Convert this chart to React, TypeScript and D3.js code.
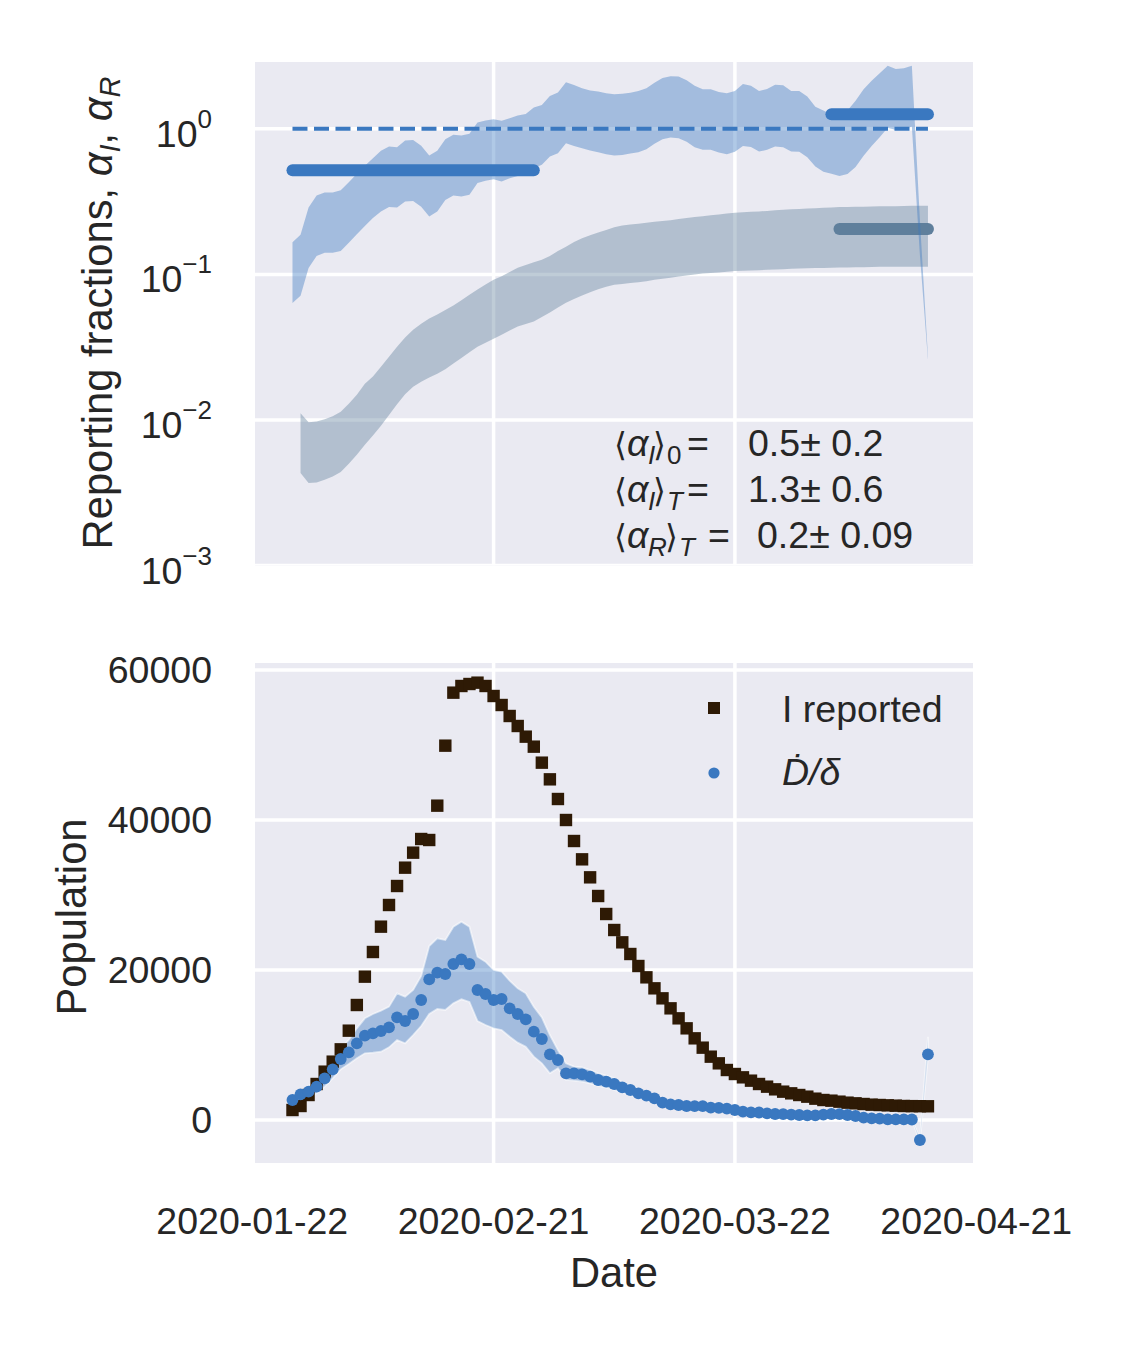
import React from "react";
import * as d3 from "d3";

// ---- data (one value per day, 2020-01-27 .. 2020-04-15)
const DAY = 864e5;
const dates = d3.utcDay.range(new Date(Date.UTC(2020, 0, 27)), new Date(Date.UTC(2020, 3, 16)));

// alpha_I credible band (top panel, blue), days 5..84
const alphaIUpper = [
  0.166, 0.187, 0.288, 0.348, 0.365, 0.365, 0.379, 0.43, 0.491, 0.557, 0.629, 0.706, 0.757, 0.749, 0.832, 0.84,
  0.767, 0.656, 0.706, 0.849, 0.91, 0.9, 0.924, 1.105, 1.14, 1.165, 1.135, 1.183, 1.233, 1.267, 1.4, 1.46,
  1.685, 1.775, 2.09, 2.005, 1.905, 1.835, 1.805, 1.76, 1.73, 1.745, 1.773, 1.822, 1.9, 2.07, 2.24, 2.3,
  2.29, 2.16, 1.98, 1.875, 1.875, 1.795, 1.76, 1.82, 2.03, 1.98, 1.82, 1.88, 2.01, 1.995, 1.82, 1.82,
  1.67, 1.42, 1.335, 1.254, 1.24, 1.335, 1.56, 1.875, 2.14, 2.41, 2.71, 2.58, 2.61, 2.71, 0.237, 0.0272,
];
const alphaILower = [
  0.0635, 0.0713, 0.1105, 0.134, 0.141, 0.141, 0.145, 0.165, 0.189, 0.215, 0.244, 0.271, 0.29, 0.288, 0.317, 0.32,
  0.292, 0.25, 0.271, 0.325, 0.348, 0.343, 0.352, 0.424, 0.44, 0.451, 0.434, 0.458, 0.475, 0.491, 0.537, 0.566,
  0.646, 0.681, 0.798, 0.764, 0.736, 0.709, 0.692, 0.67, 0.656, 0.662, 0.676, 0.691, 0.725, 0.789, 0.849, 0.871,
  0.863, 0.814, 0.749, 0.718, 0.718, 0.687, 0.67, 0.695, 0.764, 0.752, 0.698, 0.718, 0.756, 0.749, 0.698, 0.695,
  0.638, 0.551, 0.507, 0.491, 0.475, 0.489, 0.546, 0.653, 0.764, 0.877, 1.016, 0.984, 1.0, 1.032, 0.136, 0.0259,
];

// alpha_R credible band (top panel, slate), days 6..84
const alphaRUpper = [
  0.0111, 0.00966, 0.00975, 0.0101, 0.0106, 0.0114, 0.0129, 0.0149, 0.0177, 0.0199, 0.0232, 0.0272, 0.0318, 0.0369,
  0.0417, 0.0458, 0.0498, 0.0531, 0.0569, 0.0611, 0.0665, 0.0724, 0.0787, 0.0851, 0.0918, 0.0973, 0.104, 0.111,
  0.116, 0.121, 0.126, 0.134, 0.145, 0.155, 0.167, 0.177, 0.186, 0.194, 0.202, 0.211, 0.217, 0.22, 0.223, 0.226,
  0.23, 0.233, 0.236, 0.24, 0.244, 0.248, 0.251, 0.255, 0.258, 0.262, 0.265, 0.267, 0.269, 0.271, 0.273, 0.276,
  0.278, 0.28, 0.282, 0.284, 0.285, 0.287, 0.288, 0.29, 0.291, 0.292, 0.292, 0.293, 0.294, 0.294, 0.294, 0.295,
  0.296, 0.296, 0.296,
];
const alphaRLower = [
  0.00432, 0.00369, 0.00372, 0.00388, 0.00409, 0.00439, 0.005, 0.00577, 0.00676, 0.00782, 0.00912, 0.0108, 0.0128,
  0.015, 0.0169, 0.0183, 0.0196, 0.0208, 0.0223, 0.0244, 0.0266, 0.0292, 0.0318, 0.0339, 0.0361, 0.0385, 0.0412,
  0.0439, 0.0456, 0.0475, 0.0509, 0.0547, 0.0593, 0.0638, 0.0679, 0.0716, 0.0755, 0.0792, 0.0822, 0.0849, 0.0858,
  0.0872, 0.0885, 0.0899, 0.0918, 0.0933, 0.0948, 0.0966, 0.0983, 0.1, 0.1015, 0.1023, 0.1031, 0.1043, 0.1054,
  0.1059, 0.1064, 0.107, 0.1076, 0.1082, 0.1087, 0.1093, 0.1099, 0.1102, 0.1105, 0.1108, 0.1111, 0.1114, 0.1116,
  0.1119, 0.1122, 0.1124, 0.1127, 0.1127, 0.1127, 0.1127, 0.1127, 0.1127, 0.1127,
];

// fitted plateaus: value, first day, last day
const levelNames = ["alphaI0", "alphaIT", "alphaRT"];
const levelValues = [0.52, 1.26, 0.205];
const levelFrom = ["2020-01-27", "2020-04-03", "2020-04-04"];
const levelTo = ["2020-02-26", "2020-04-15", "2020-04-15"];

// bottom panel
const iReported = [
  1333, 1867, 3333, 4800, 6444, 7778, 9422, 11911, 15333, 19111, 22400, 25778, 28667, 31200, 33644, 35644, 37467,
  37333, 41911, 49911, 56978, 57867, 58133, 58311, 57867, 56533, 55333, 53867, 52533, 51111, 49778, 47644, 45422,
  42800, 40000, 37200, 34756, 32356, 29867, 27467, 25333, 23689, 22133, 20533, 19022, 17556, 16222, 14889, 13556,
  12222, 10889, 9644, 8444, 7556, 6667, 6133, 5689, 5244, 4800, 4444, 4089, 3778, 3556, 3333, 3111, 2844, 2667,
  2578, 2444, 2311, 2222, 2133, 2044, 2000, 1956, 1911, 1867, 1850, 1840, 1830,
];
const dDelta = [
  2667, 3422, 3778, 4444, 5556, 6756, 8133, 9022, 10222, 11244, 11556, 11867, 12356, 13689, 13200, 14133, 16000,
  18756, 19644, 19467, 20800, 21422, 20800, 17333, 16800, 16000, 16133, 14889, 14133, 13422, 11778, 10800, 8756,
  8000, 6222, 6222, 6089, 5778, 5333, 5111, 4800, 4356, 4000, 3556, 3244, 2889, 2311, 2089, 2000, 1867, 1850,
  1840, 1644, 1620, 1511, 1333, 1111, 1022, 1000, 889, 800, 780, 711, 667, 622, 620, 711, 800, 790, 667, 533,
  311, 222, 178, 89, 80, 80, 70, -2667, 8756,
];
const dDeltaUpper = [
  3111, 4000, 4533, 5333, 6578, 8000, 9556, 10667, 12222, 13556, 14133, 14578, 15111, 16889, 16444, 17333, 19200,
  23200, 24222, 24000, 25778, 26444, 25778, 21778, 21111, 20000, 19778, 18578, 17556, 16889, 15111, 13689, 11333,
  9333, 7556, 7111, 7022, 6667, 6222, 5911, 5556, 5067, 4667, 4133, 3778, 3333, 2667, 2400, 2200, 2050, 2030,
  2020, 1800, 1780, 1660, 1470, 1230, 1130, 1100, 980, 880, 860, 780, 730, 690, 680, 780, 880, 870, 730, 590,
  350, 250, 200, 100, 90, 90, 80, -2400, 11100,
];
const dDeltaLower = [
  2222, 2889, 3111, 3556, 4444, 5556, 6756, 7467, 8222, 8889, 8978, 9111, 9689, 10667, 10222, 11333, 12533,
  14133, 14800, 14667, 15556, 16089, 15733, 13200, 12667, 12222, 12000, 11111, 10311, 9778, 8444, 7556, 6222,
  6889, 5333, 5244, 5111, 4889, 4533, 4311, 4000, 3644, 3333, 2978, 2667, 2400, 1956, 1778, 1800, 1680, 1670,
  1660, 1490, 1460, 1360, 1200, 1000, 920, 900, 800, 720, 700, 640, 600, 560, 560, 640, 720, 710, 600, 480,
  280, 200, 160, 80, 70, 70, 60, -2900, 8400,
];

const xTickLabels = ["2020-01-22", "2020-02-21", "2020-03-22", "2020-04-21"];
const topTicks = [1e-3, 1e-2, 1e-1, 1];
const topTickExp = ["\u22123", "\u22122", "\u22121", "0"];
const bottomTicks = [0, 20000, 40000, 60000];

const annoSymbol = ["I", "I", "R"];
const annoSub = ["0", "T", "T"];
const annoText = ["0.5\u00b1 0.2", "1.3\u00b1 0.6", "0.2\u00b1 0.09"];

// ---- styling
const BG = "#eaeaf2";
const BLUE = "#3a78c0";
const SLATE = "#5f7f9c";
const BROWN = "#2e1a05";
const INK = "#262626";
const FONT = "'Liberation Sans', Arial, 'DejaVu Sans', sans-serif";

const parse = d3.utcParse("%Y-%m-%d");
const day0 = Date.UTC(2020, 0, 22);
const left = 255, right = 973;
const topPanel = { y0: 62, y1: 565.5 };
const botPanel = { y0: 663, y1: 1163 };

const x = d3
  .scaleUtc()
  .domain([new Date(day0 + 0.34 * DAY), new Date(day0 + 89.6 * DAY)])
  .range([left, right]);
const yTop = d3.scaleLog().domain([1e-3, 2.88]).range([topPanel.y1, topPanel.y0]);
const yBot = d3.scaleLinear().domain([-5733, 60933]).range([botPanel.y1, botPanel.y0]);

type Row = [Date, number, number];

function band(ds: Date[], hi: number[], lo: number[], y: (v: number) => number) {
  const rows: Row[] = ds.map((d, i) => [d, hi[i], lo[i]]);
  return d3
    .area<Row>()
    .x((r) => x(r[0]))
    .y0((r) => y(r[2]))
    .y1((r) => y(r[1]))(rows) as string;
}

const gridX = xTickLabels.map((t) => x(parse(t)!)).filter((v) => v > left && v < right);

const App: React.FC = () => {
  const dashY = yTop(1);
  return (
    <svg
      width={1125}
      height={1350}
      viewBox="0 0 1125 1350"
      style={{ position: "absolute", left: 0, top: 0, background: "#fff" }}
      fontFamily={FONT}
    >
      <defs>
        <clipPath id="clipTop">
          <rect x={left} y={topPanel.y0} width={right - left} height={topPanel.y1 - topPanel.y0} />
        </clipPath>
        <clipPath id="clipBot">
          <rect x={left} y={botPanel.y0} width={right - left} height={botPanel.y1 - botPanel.y0} />
        </clipPath>
      </defs>

      {/* ---------- top panel ---------- */}
      <rect x={left} y={topPanel.y0} width={right - left} height={topPanel.y1 - topPanel.y0} fill={BG} />
      <g clipPath="url(#clipTop)">
        {topTicks.map((t) => (
          <line key={t} x1={left} x2={right} y1={yTop(t)} y2={yTop(t)} stroke="#fff" strokeWidth={3.5} />
        ))}
        {gridX.map((gx) => (
          <line key={gx} x1={gx} x2={gx} y1={topPanel.y0} y2={topPanel.y1} stroke="#fff" strokeWidth={3.5} />
        ))}
        <path d={band(dates.slice(1), alphaRUpper, alphaRLower, yTop)} fill={SLATE} fillOpacity={0.4} />
        {levelNames.map((n, i) =>
          n === "alphaRT" ? (
            <line
              key={n}
              x1={x(parse(levelFrom[i])!)}
              x2={x(parse(levelTo[i])!)}
              y1={yTop(levelValues[i])}
              y2={yTop(levelValues[i])}
              stroke={SLATE}
              strokeWidth={12}
              strokeLinecap="round"
            />
          ) : null
        )}
        <path d={band(dates, alphaIUpper, alphaILower, yTop)} fill={BLUE} fillOpacity={0.4} />
        {levelNames.map((n, i) =>
          n !== "alphaRT" ? (
            <line
              key={n}
              x1={x(parse(levelFrom[i])!)}
              x2={x(parse(levelTo[i])!)}
              y1={yTop(levelValues[i])}
              y2={yTop(levelValues[i])}
              stroke={BLUE}
              strokeWidth={12}
              strokeLinecap="round"
            />
          ) : null
        )}
        <line
          x1={x(dates[0])}
          x2={x(dates[dates.length - 1])}
          y1={dashY}
          y2={dashY}
          stroke={BLUE}
          strokeWidth={4}
          strokeDasharray="15 6.5"
        />
      </g>

      {/* annotation: <alpha_X>_s = value */}
      {annoText.map((txt, i) => {
        const by = 456 + i * 46;
        const isR = annoSymbol[i] === "R";
        return (
          <text key={i} y={by} fontSize={37.5} fill={INK}>
            <tspan x={614} fontSize={33}>
              {"\u27e8"}
            </tspan>
            <tspan x={627} fontStyle="italic">
              {"\u03b1"}
            </tspan>
            <tspan x={648} dy={8} fontSize={26} fontStyle="italic">
              {annoSymbol[i]}
            </tspan>
            <tspan x={isR ? 665 : 653} dy={-8} fontSize={33}>
              {"\u27e9"}
            </tspan>
            <tspan x={isR ? 679 : 667} dy={8} fontSize={26} fontStyle={annoSub[i] === "T" ? "italic" : "normal"}>
              {annoSub[i]}
            </tspan>
            <tspan x={isR ? 708 : 687} dy={-8}>
              =
            </tspan>
            <tspan x={isR ? 757 : 748} style={{ whiteSpace: "pre" }}>
              {txt}
            </tspan>
          </text>
        );
      })}

      {/* top y ticks */}
      {topTicks.map((t, i) => (
        <text key={t} x={212} y={yTop(t) + 18} textAnchor="end" fontSize={37.5} fill={INK}>
          10
          <tspan dy={-19} fontSize={26}>
            {topTickExp[i]}
          </tspan>
        </text>
      ))}
      <text transform="translate(112,313) rotate(-90)" textAnchor="middle" fontSize={41.7} fill={INK}>
        {"Reporting fractions, "}
        <tspan fontStyle="italic">{"\u03b1"}</tspan>
        <tspan dy={8} fontSize={29} fontStyle="italic">
          I
        </tspan>
        <tspan dy={-8}>{", "}</tspan>
        <tspan fontStyle="italic">{"\u03b1"}</tspan>
        <tspan dy={8} fontSize={29} fontStyle="italic">
          R
        </tspan>
      </text>

      {/* ---------- bottom panel ---------- */}
      <rect x={left} y={botPanel.y0} width={right - left} height={botPanel.y1 - botPanel.y0} fill={BG} />
      <g clipPath="url(#clipBot)">
        {bottomTicks.map((t) => (
          <line key={t} x1={left} x2={right} y1={yBot(t)} y2={yBot(t)} stroke="#fff" strokeWidth={3.5} />
        ))}
        {gridX.map((gx) => (
          <line key={gx} x1={gx} x2={gx} y1={botPanel.y0} y2={botPanel.y1} stroke="#fff" strokeWidth={3.5} />
        ))}
        <path
          d={band(dates, dDeltaUpper, dDeltaLower, yBot)}
          fill={BLUE}
          fillOpacity={0.4}
          stroke="#ffffff"
          strokeOpacity={0.55}
          strokeWidth={1.8}
        />
        {iReported.map((v, i) => (
          <rect key={i} x={x(dates[i]) - 6.2} y={yBot(v) - 6.2} width={12.4} height={12.4} fill={BROWN} />
        ))}
        {dDelta.map((v, i) => (
          <circle key={i} cx={x(dates[i])} cy={yBot(v)} r={5.9} fill={BLUE} />
        ))}
      </g>

      {/* legend */}
      <rect x={708} y={702} width={12} height={12} fill={BROWN} />
      <text x={782} y={722} fontSize={37.5} fill={INK}>
        I reported
      </text>
      <circle cx={714} cy={773} r={5.6} fill={BLUE} />
      <text x={782} y={785} fontSize={37.5} fill={INK} fontStyle="italic">
        {"\u1e0a/\u03b4"}
      </text>

      {/* bottom y ticks */}
      {bottomTicks.map((t) => (
        <text key={t} x={212} y={yBot(t) + 13} textAnchor="end" fontSize={37.5} fill={INK}>
          {t}
        </text>
      ))}
      <text transform="translate(86,917) rotate(-90)" textAnchor="middle" fontSize={41.7} fill={INK}>
        Population
      </text>

      {/* x ticks */}
      {xTickLabels.map((t) => (
        <text key={t} x={x(parse(t)!)} y={1234} textAnchor="middle" fontSize={37.5} fill={INK}>
          {t}
        </text>
      ))}
      <text x={(left + right) / 2} y={1287} textAnchor="middle" fontSize={41.7} fill={INK}>
        Date
      </text>
    </svg>
  );
};

export default App;
